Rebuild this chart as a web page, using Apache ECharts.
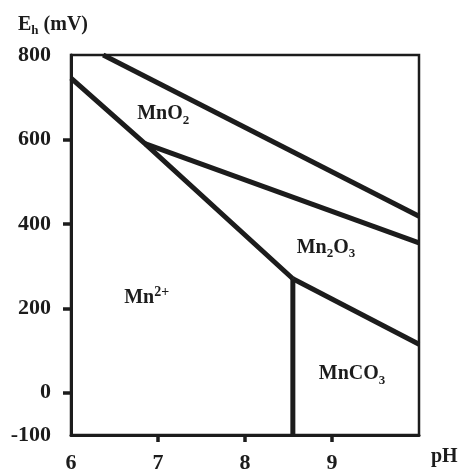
<!DOCTYPE html>
<html>
<head>
<meta charset="utf-8">
<script src="https://cdn.jsdelivr.net/npm/echarts@6/dist/echarts.min.js"></script>
<style>
html,body{margin:0;padding:0;background:#fff;}
#chart{width:462px;height:475px;}
</style>
</head>
<body>
<div id="chart"></div>
<script>
// ---- data (pH, Eh in mV) ----
const xTickLabels = [6, 7, 8, 9];
const xTickMarks = [7, 8, 9];
const yTickLabels = [-100, 0, 200, 400, 600, 800];
const yTickMarks = [0, 200, 400, 600];

// boundary lines
const lineMn2Upper = [[6.0, 745], [6.85, 590], [8.55, 270]];   // Mn2+ / MnO2 , Mn2+ / Mn2O3
const lineMnO2Mn2O3 = [[6.85, 590], [10.0, 355]];               // MnO2 / Mn2O3
const lineUpper = [[6.37, 800], [10.0, 418]];                    // upper boundary
const lineMn2O3MnCO3 = [[8.55, 270], [10.0, 115]];               // Mn2O3 / MnCO3
const lineMn2MnCO3 = [[8.55, 270], [8.55, -100]];                // Mn2+ / MnCO3

// region labels
const regionNames = ['MnO2', 'Mn2O3', 'Mn2+', 'MnCO3'];
const regionX = [7.06, 8.93, 6.87, 9.23];
const regionY = [661, 344, 224, 45];
const regionText = ['{n|MnO}{sub|2}', '{n|Mn}{sub|2}{n|O}{sub|3}', '{n|Mn}{sup|2+}', '{n|MnCO}{sub|3}'];

const FONT = '"Liberation Serif", "Times New Roman", serif';
const INK = '#1c1c1c';

const chart = echarts.init(document.getElementById('chart'), null, {renderer: 'canvas'});

function boundary(name, data) {
  return {
    name: name, type: 'line', data: data, symbol: 'none', silent: true,
    lineStyle: {color: INK, width: 5, cap: 'butt', join: 'miter'},
    z: 3
  };
}

const option = {
  backgroundColor: '#fff',
  animation: false,
  title: {
    text: '{e|E}{h|h}{e| (mV)}',
    left: 13, top: 8,
    textStyle: {
      rich: {
        e: {fontFamily: FONT, fontWeight: 'bold', fontSize: 20, color: INK, lineHeight: 24},
        h: {fontFamily: FONT, fontWeight: 'bold', fontSize: 13, color: INK, lineHeight: 22, verticalAlign: 'bottom'}
      }
    }
  },
  grid: {
    left: 71, right: 43, top: 55, bottom: 40,
    show: true, borderColor: INK, borderWidth: 2.5, backgroundColor: 'transparent'
  },
  xAxis: {
    type: 'value', min: 6, max: 10, interval: 1,
    name: 'pH', nameLocation: 'end', nameGap: 12,
    nameTextStyle: {fontFamily: FONT, fontWeight: 'bold', fontSize: 20, color: INK, align: 'left', verticalAlign: 'top', padding: [12, 0, 0, 0]},
    axisLine: {show: true, onZero: false, lineStyle: {color: INK, width: 3}},
    axisTick: {show: true, customValues: xTickMarks, length: 7, inside: false, lineStyle: {color: INK, width: 3.5}},
    axisLabel: {customValues: xTickLabels, margin: 17, fontFamily: FONT, fontWeight: 'bold', fontSize: 22, color: INK},
    splitLine: {show: false}
  },
  yAxis: {
    type: 'value', min: -100, max: 800, interval: 100,
    axisLine: {show: true, onZero: false, lineStyle: {color: INK, width: 3}},
    axisTick: {show: true, customValues: yTickMarks, length: 8, inside: false, lineStyle: {color: INK, width: 3.5}},
    axisLabel: {customValues: yTickLabels, margin: 20, fontFamily: FONT, fontWeight: 'bold', fontSize: 22, color: INK},
    splitLine: {show: false}
  },
  series: [
    boundary('Mn2+ upper', lineMn2Upper),
    boundary('MnO2/Mn2O3', lineMnO2Mn2O3),
    boundary('upper', lineUpper),
    boundary('Mn2O3/MnCO3', lineMn2O3MnCO3),
    boundary('Mn2+/MnCO3', lineMn2MnCO3),
    {
      name: 'regions', type: 'scatter', symbolSize: 0, silent: true, z: 4,
      itemStyle: {color: INK, opacity: 1},
      data: regionNames.map((n, i) => ({name: n, value: [regionX[i], regionY[i]], text: regionText[i]})),
      label: {
        show: true, position: [0, 0], align: 'center', verticalAlign: 'middle', color: INK,
        textBorderWidth: 0, opacity: 1,
        formatter: p => p.data.text,
        rich: {
          n: {fontFamily: FONT, fontWeight: 'bold', fontSize: 20, color: INK, lineHeight: 26},
          sub: {fontFamily: FONT, fontWeight: 'bold', fontSize: 13, color: INK, lineHeight: 12, verticalAlign: 'bottom'},
          sup: {fontFamily: FONT, fontWeight: 'bold', fontSize: 14, color: INK, lineHeight: 12, verticalAlign: 'top'}
        }
      }
    }
  ]
};
chart.setOption(option);
</script>
</body>
</html>
